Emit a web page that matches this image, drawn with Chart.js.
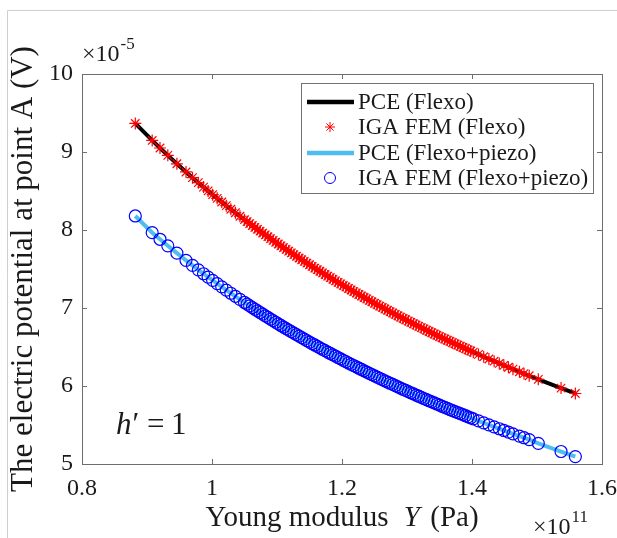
<!DOCTYPE html>
<html>
<head>
  <meta charset="utf-8">
  <title>Electric potential vs Young modulus</title>
  <script src="https://cdn.jsdelivr.net/npm/chart.js"></script>
  <style>
    html, body { margin: 0; padding: 0; background: #fff; }
  </style>
</head>
<body>
  <canvas id="chartPotential" width="617" height="538"></canvas>
<script>
  // Young modulus samples, in units of 1e11 Pa
  var youngModulus = [0.882, 0.908, 0.920, 0.932, 0.946, 0.960, 0.970, 0.979, 0.987, 0.994,
    1.001, 1.008, 1.015, 1.022, 1.029, 1.036, 1.043,
    1.050, 1.054, 1.058, 1.062, 1.066, 1.070, 1.074, 1.078, 1.082, 1.086,
    1.090, 1.094, 1.098, 1.102, 1.106, 1.110, 1.114, 1.118, 1.122, 1.126,
    1.130, 1.134, 1.138, 1.142, 1.146, 1.150, 1.154, 1.158, 1.162, 1.166,
    1.170, 1.174, 1.178, 1.182, 1.186, 1.190, 1.194, 1.198, 1.202, 1.206,
    1.210, 1.214, 1.218, 1.222, 1.226, 1.230, 1.234, 1.238, 1.242, 1.246,
    1.250, 1.254, 1.258, 1.262, 1.266, 1.270, 1.274, 1.278, 1.282, 1.286,
    1.290, 1.294, 1.298, 1.302, 1.306, 1.310, 1.314, 1.318, 1.322, 1.326,
    1.330, 1.334, 1.338, 1.342, 1.346, 1.350, 1.354, 1.358, 1.362, 1.366,
    1.370, 1.374, 1.378, 1.382, 1.386, 1.390, 1.394, 1.398, 1.402,
    1.410, 1.418, 1.426, 1.434, 1.442, 1.449, 1.456, 1.463, 1.473, 1.480,
    1.488, 1.502, 1.537, 1.559];

  // electric potential at point A, in units of 1e-5 V
  var potentialFlexo = [9.366, 9.148, 9.051, 8.957, 8.849, 8.744, 8.671, 8.607, 8.550, 8.501,
    8.453, 8.406, 8.359, 8.312, 8.266, 8.221, 8.176,
    8.132, 8.107, 8.082, 8.058, 8.033, 8.009, 7.985, 7.961, 7.937, 7.914,
    7.890, 7.867, 7.843, 7.820, 7.797, 7.775, 7.752, 7.730, 7.707, 7.685,
    7.663, 7.641, 7.619, 7.598, 7.576, 7.555, 7.533, 7.512, 7.491, 7.471,
    7.450, 7.430, 7.409, 7.389, 7.368, 7.348, 7.328, 7.309, 7.289, 7.270,
    7.250, 7.231, 7.211, 7.192, 7.173, 7.154, 7.135, 7.117, 7.098, 7.080,
    7.061, 7.043, 7.025, 7.007, 6.989, 6.971, 6.953, 6.936, 6.918, 6.901,
    6.883, 6.866, 6.849, 6.832, 6.815, 6.798, 6.781, 6.765, 6.748, 6.732,
    6.715, 6.699, 6.683, 6.667, 6.650, 6.634, 6.618, 6.603, 6.587, 6.572,
    6.556, 6.541, 6.525, 6.510, 6.494, 6.479, 6.464, 6.449, 6.434,
    6.405, 6.375, 6.346, 6.318, 6.289, 6.265, 6.240, 6.216, 6.182, 6.158,
    6.131, 6.085, 5.973, 5.904];

  var potentialFlexoPiezo = [8.180, 7.966, 7.881, 7.797, 7.703, 7.611, 7.546, 7.489, 7.439, 7.396,
    7.354, 7.312, 7.271, 7.230, 7.189, 7.150, 7.110,
    7.071, 7.049, 7.027, 7.006, 6.984, 6.963, 6.942, 6.921, 6.899, 6.879,
    6.858, 6.838, 6.817, 6.797, 6.776, 6.756, 6.736, 6.717, 6.697, 6.678,
    6.658, 6.639, 6.620, 6.601, 6.582, 6.563, 6.544, 6.526, 6.507, 6.489,
    6.471, 6.453, 6.435, 6.417, 6.399, 6.382, 6.364, 6.347, 6.329, 6.312,
    6.295, 6.278, 6.261, 6.245, 6.228, 6.212, 6.195, 6.179, 6.162, 6.146,
    6.129, 6.113, 6.097, 6.082, 6.066, 6.051, 6.035, 6.020, 6.004, 5.989,
    5.973, 5.958, 5.943, 5.928, 5.913, 5.898, 5.883, 5.869, 5.854, 5.840,
    5.825, 5.811, 5.797, 5.783, 5.769, 5.755, 5.740, 5.727, 5.713, 5.699,
    5.685, 5.672, 5.658, 5.645, 5.632, 5.619, 5.605, 5.592, 5.579,
    5.553, 5.527, 5.502, 5.476, 5.452, 5.430, 5.409, 5.387, 5.357, 5.337,
    5.313, 5.265, 5.160, 5.095];

  var xTicks = [0.8, 1, 1.2, 1.4, 1.6];
  var xTickLabels = ["0.8", "1", "1.2", "1.4", "1.6"];
  var yTicks = [5, 6, 7, 8, 9, 10];
  var yTickLabels = ["5", "6", "7", "8", "9", "10"];

  var legendLabels = ["PCE (Flexo)", "IGA FEM (Flexo)", "PCE (Flexo+piezo)", "IGA FEM (Flexo+piezo)"];

  var serif = '"Liberation Serif", "Times New Roman", serif';
  var axisColor = "#6e6e6e";
  var textColor = "#1a1a1a";
  var cyan = "#4DBEEE";

  function pontos(ys) {
    return youngModulus.map(function (x, i) { return { x: x, y: ys[i] }; });
  }

  // draws box, inner ticks, legend, titles and exponents
  var enfeites = {
    id: "enfeites",
    afterDraw: function (chart) {
      var ctx = chart.ctx;
      var a = chart.chartArea;
      var sx = chart.scales.x, sy = chart.scales.y;
      ctx.save();

      // light frame of the figure
      ctx.strokeStyle = "#cfcfcf";
      ctx.lineWidth = 1;
      ctx.beginPath();
      ctx.moveTo(7.5, 538);
      ctx.lineTo(7.5, 10.5);
      ctx.lineTo(617, 10.5);
      ctx.stroke();

      // axes box
      ctx.strokeStyle = axisColor;
      ctx.strokeRect(a.left + 0.5, a.top + 0.5, a.right - a.left, a.bottom - a.top);
      ctx.beginPath();
      xTicks.forEach(function (v) {
        var px = Math.round(sx.getPixelForValue(v)) + 0.5;
        ctx.moveTo(px, a.bottom); ctx.lineTo(px, a.bottom - 5);
        ctx.moveTo(px, a.top); ctx.lineTo(px, a.top + 5);
      });
      yTicks.forEach(function (v) {
        var py = Math.round(sy.getPixelForValue(v)) + 0.5;
        ctx.moveTo(a.left, py); ctx.lineTo(a.left + 5, py);
        ctx.moveTo(a.right, py); ctx.lineTo(a.right - 5, py);
      });
      ctx.stroke();

      // legend
      var lx = 301, ly = 83, lw = 292, lh = 110;
      ctx.fillStyle = "#fff";
      ctx.fillRect(lx, ly, lw, lh);
      ctx.strokeStyle = "#707070";
      ctx.strokeRect(lx + 0.5, ly + 0.5, lw, lh);
      var rows = [102, 127, 153, 178];
      ctx.font = "23px " + serif;
      ctx.textBaseline = "middle";
      ctx.textAlign = "left";
      legendLabels.forEach(function (txt, i) {
        var y = rows[i];
        if (i === 0 || i === 2) {
          ctx.strokeStyle = i === 0 ? "#000" : cyan;
          ctx.lineWidth = 4.5;
          ctx.beginPath(); ctx.moveTo(307, y); ctx.lineTo(354, y); ctx.stroke();
        } else if (i === 1) {
          ctx.strokeStyle = "#ff0000"; ctx.lineWidth = 1;
          ctx.beginPath();
          var r = 5;
          ctx.moveTo(330 - r, y); ctx.lineTo(330 + r, y);
          ctx.moveTo(330, y - r); ctx.lineTo(330, y + r);
          var d = r * Math.SQRT1_2;
          ctx.moveTo(330 - d, y - d); ctx.lineTo(330 + d, y + d);
          ctx.moveTo(330 - d, y + d); ctx.lineTo(330 + d, y - d);
          ctx.stroke();
        } else {
          ctx.strokeStyle = "#0000ff"; ctx.lineWidth = 1;
          ctx.beginPath(); ctx.arc(330, y, 5.5, 0, 2 * Math.PI); ctx.stroke();
        }
        ctx.fillStyle = textColor;
        ctx.fillText(txt, 358, y + 1);
      });

      // y title
      ctx.fillStyle = textColor;
      ctx.save();
      ctx.translate(24, (a.top + a.bottom) / 2);
      ctx.rotate(-Math.PI / 2);
      ctx.textAlign = "center";
      ctx.textBaseline = "middle";
      ctx.font = "31px " + serif;
      ctx.fillText("The electric potential at point A (V)", 0, 0);
      ctx.restore();

      // x title
      ctx.textBaseline = "alphabetic";
      ctx.textAlign = "left";
      var p1 = "Young modulus ", p2 = "Y", p3 = " (Pa)";
      ctx.font = "29px " + serif;
      var w1 = ctx.measureText(p1).width, w3 = ctx.measureText(p3).width;
      ctx.font = "italic 29px " + serif;
      var w2 = ctx.measureText(p2).width;
      var gap = 8;
      var x0 = (a.left + a.right) / 2 - (w1 + gap + w2 + 3 + w3) / 2;
      var by = 526;
      ctx.font = "29px " + serif;
      ctx.fillText(p1, x0, by);
      ctx.font = "italic 29px " + serif;
      ctx.fillText(p2, x0 + w1 + gap, by);
      ctx.font = "29px " + serif;
      ctx.fillText(p3, x0 + w1 + gap + w2 + 3, by);

      // exponents
      ctx.font = "24px " + serif;
      ctx.fillText("\u00d710", 82, 61);
      var we = ctx.measureText("\u00d710").width;
      ctx.font = "17px " + serif;
      ctx.fillText("-5", 82 + we + 1, 49);

      ctx.font = "24px " + serif;
      ctx.fillText("\u00d710", 533, 534);
      we = ctx.measureText("\u00d710").width;
      ctx.font = "17px " + serif;
      ctx.fillText("11", 533 + we + 1, 522);

      // h' = 1 note
      ctx.font = "italic 31px " + serif;
      ctx.fillText("h", 116, 434);
      var wh = ctx.measureText("h").width;
      ctx.font = "31px " + serif;
      ctx.fillText("\u2032", 116 + wh + 1, 434);
      ctx.fillText("=", 147, 434);
      ctx.fillText("1", 171, 434);

      ctx.restore();
    }
  };

  var ctxPotential = document.getElementById("chartPotential");
  var graficoPotential = new Chart(ctxPotential, {
    type: "scatter",
    data: {
      datasets: [
        {
          label: legendLabels[3],
          data: pontos(potentialFlexoPiezo),
          showLine: false,
          pointStyle: "circle",
          pointRadius: 6,
          pointBorderWidth: 1.2,
          pointBorderColor: "#0000ff",
          pointBackgroundColor: "rgba(0,0,0,0)"
        },
        {
          label: legendLabels[2],
          data: pontos(potentialFlexoPiezo),
          showLine: true,
          borderColor: cyan,
          borderWidth: 4,
          pointRadius: 0,
          tension: 0
        },
        {
          label: legendLabels[1],
          data: pontos(potentialFlexo),
          showLine: false,
          pointStyle: "star",
          pointRadius: 6,
          pointBorderWidth: 1.2,
          pointBorderColor: "#ff0000",
          pointBackgroundColor: "#ff0000"
        },
        {
          label: legendLabels[0],
          data: pontos(potentialFlexo),
          showLine: true,
          borderColor: "#000000",
          borderWidth: 4,
          pointRadius: 0,
          tension: 0
        }
      ]
    },
    options: {
      responsive: false,
      animation: false,
      events: [],
      layout: { padding: { left: 0, top: 74, right: 15, bottom: 0 } },
      plugins: {
        legend: { display: false },
        tooltip: { enabled: false }
      },
      scales: {
        x: {
          type: "linear",
          min: 0.8,
          max: 1.6,
          grid: { display: false, drawTicks: false },
          border: { display: false },
          afterBuildTicks: function (s) { s.ticks = xTicks.map(function (v) { return { value: v }; }); },
          afterFit: function (s) { s.height = 74; s.paddingLeft = 0; s.paddingRight = 0; },
          ticks: {
            autoSkip: false,
            maxRotation: 0,
            padding: 10,
            color: textColor,
            font: { family: serif, size: 24 },
            callback: function (v) { return xTickLabels[xTicks.indexOf(v)]; }
          }
        },
        y: {
          type: "linear",
          min: 5,
          max: 10,
          grid: { display: false, drawTicks: false },
          border: { display: false },
          afterBuildTicks: function (s) { s.ticks = yTicks.map(function (v) { return { value: v }; }); },
          afterFit: function (s) { s.width = 82; s.paddingTop = 0; s.paddingBottom = 0; },
          ticks: {
            autoSkip: false,
            padding: 9,
            color: textColor,
            font: { family: serif, size: 24 },
            callback: function (v) { return yTickLabels[yTicks.indexOf(v)]; }
          }
        }
      }
    },
    plugins: [enfeites]
  });
</script>
</body>
</html>
